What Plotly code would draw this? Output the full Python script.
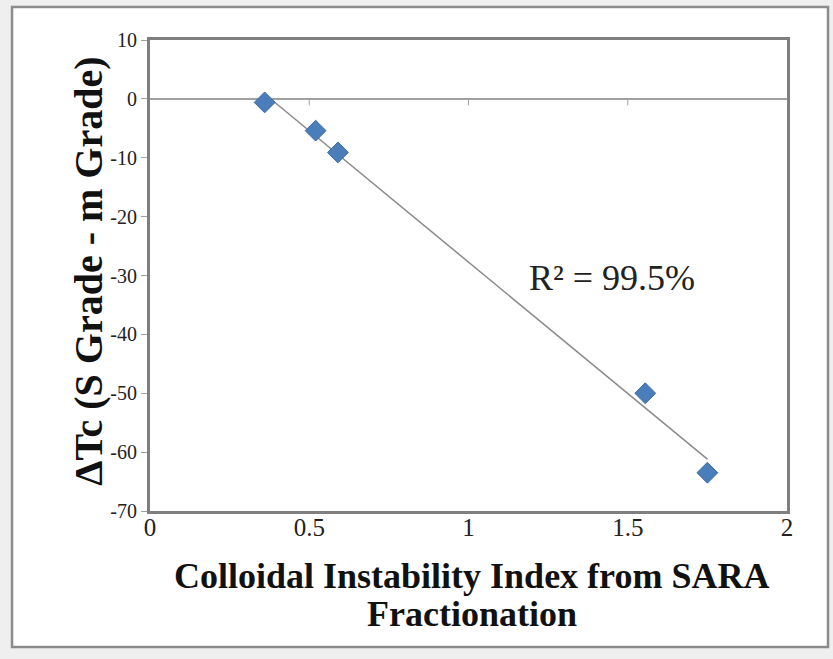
import numpy as np
import plotly.graph_objects as go

# Colloidal instability index vs. critical temperature difference
cii = [0.36, 0.52, 0.59, 1.555, 1.75]
delta_tc = [-0.6, -5.4, -9.1, -50.0, -63.5]

x_ticks = [0, 0.5, 1, 1.5, 2]
y_ticks = [10, 0, -10, -20, -30, -40, -50, -60, -70]
r2_label = "R² = 99.5%"

# least-squares trendline over the data span
slope, intercept = np.polyfit(cii, delta_tc, 1)
fit_x = [min(cii), max(cii)]
fit_y = [slope * v + intercept for v in fit_x]

serif = "Liberation Serif, Times New Roman, serif"

fig = go.Figure()
fig.add_trace(go.Scatter(
    x=fit_x, y=fit_y, mode="lines",
    line=dict(color="#8a8a8a", width=1.5),
    hoverinfo="skip", showlegend=False,
))
fig.add_trace(go.Scatter(
    x=cii, y=delta_tc, mode="markers",
    marker=dict(symbol="diamond", size=16, color="#4a7ebb",
                line=dict(color="#3b6aa6", width=1)),
    showlegend=False,
))

# chart-area frame
fig.add_shape(type="rect", xref="paper", yref="paper",
              x0=-0.2166, x1=1.0644, y0=-0.2887, y1=1.070,
              fillcolor="white", line=dict(color="#8c8c8c", width=2.5),
              layer="below")

# small tick marks where the category axis crosses y = 0
for t in x_ticks[1:-1]:
    fig.add_shape(type="line", xref="x", yref="y",
                  x0=t, x1=t, y0=0, y1=-1.1,
                  line=dict(color="#a0a0a0", width=1))

fig.add_annotation(x=1.45, y=-30.4, xref="x", yref="y", text=r2_label,
                   xanchor="center", yanchor="middle", showarrow=False,
                   font=dict(family=serif, size=36, color="#222"))

title_font = dict(family=serif, size=36, color="#111")
fig.add_annotation(x=0.505, y=-0.138, xref="paper", yref="paper",
                   text="<b>Colloidal Instability Index from SARA</b>",
                   xanchor="center", yanchor="middle", showarrow=False,
                   font=title_font)
fig.add_annotation(x=0.505, y=-0.2187, xref="paper", yref="paper",
                   text="<b>Fractionation</b>",
                   xanchor="center", yanchor="middle", showarrow=False,
                   font=title_font)

fig.add_annotation(x=-0.096, y=0.51, xref="paper", yref="paper",
                   text="<b>ΔTc (S Grade - m Grade)</b>", textangle=-90,
                   xanchor="center", yanchor="middle", showarrow=False,
                   font=dict(family=serif, size=40, color="#111"))

fig.update_xaxes(
    range=[0, 2], tickvals=x_ticks, ticktext=[f"{v:g}" for v in x_ticks],
    showgrid=False, zeroline=False, ticks="", ticklabelstandoff=-8,
    showline=True, linecolor="#7f7f7f", linewidth=3, mirror=True,
    tickfont=dict(family=serif, size=25, color="#222"),
)
fig.update_yaxes(
    range=[-70, 10], tickvals=y_ticks, ticktext=[str(v) for v in y_ticks],
    showgrid=False, zeroline=True, zerolinecolor="#a0a0a0", zerolinewidth=1.5,
    ticks="outside", ticklen=6, tickcolor="#a0a0a0",
    showline=True, linecolor="#7f7f7f", linewidth=3, mirror=True,
    tickfont=dict(family=serif, size=20, color="#222"),
)

fig.update_layout(
    width=833, height=659,
    margin=dict(l=150, r=46, t=40, b=148),
    paper_bgcolor="#efefef", plot_bgcolor="white",
)

fig.write_html("out.html")
